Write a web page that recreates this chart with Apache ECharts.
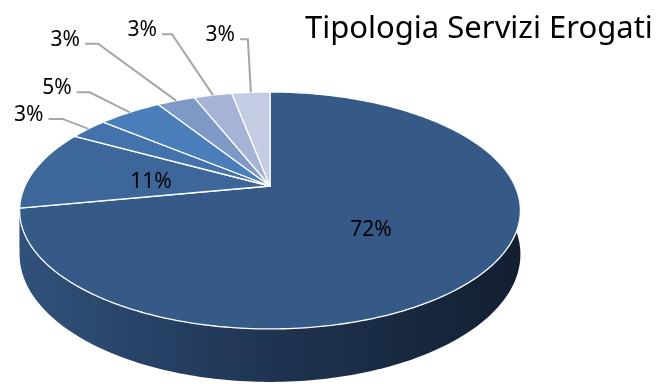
<!DOCTYPE html>
<html>
<head>
<meta charset="utf-8">
<script src="https://cdn.jsdelivr.net/npm/echarts@6/dist/echarts.min.js"></script>
<style>
  html, body { margin: 0; padding: 0; background: #ffffff; }
  #chart { width: 665px; height: 384px; }
</style>
</head>
<body>
<div id="chart"></div>
<script>
// ---- chart data ----
const titleText = 'Tipologia Servizi Erogati';
const sliceValues = [72, 11, 3, 5, 3, 3, 3];
const sliceLabels = ['72%', '11%', '3%', '5%', '3%', '3%', '3%'];

// ---- styling ----
const sliceColors = ['#365A87', '#3D679B', '#4372AC', '#4A7EBB', '#7F99C6', '#A5B4D6', '#C3CCE2'];
const FONT = '"Noto Sans", "Open Sans", sans-serif';

// Tilted disc seen in perspective: centre, radii, perspective factor, thickness
const view = { cx: 270, cy: 186, rx: 245, ry: 113.4, persp: 0.2067, depth: 42 };

// Outside labels: [elbow dx, elbow dy, horizontal run] from the rim anchor
const outsideLeaders = [null, null, [-26, -10, 14], [-40, -20, 13], [-78, -57, 13], [-41, -61, 10], [-3, -53, 8]];
const insideRadius = 0.5;

// cumulative start of each slice
const sliceStarts = [];
sliceValues.reduce((acc, v, i) => { sliceStarts[i] = acc; return acc + v; }, 0);
const totalValue = sliceValues.reduce((a, b) => a + b, 0);

// angle measured clockwise from 12 o'clock, r as fraction of radius
function project(theta, r) {
  const u = r * Math.sin(theta);
  const v = r * Math.cos(theta);
  const w = 1 + view.persp * v;
  return [view.cx + view.rx * u / w, view.cy - view.ry * v / w, w];
}

const sideGradient = {
  type: 'linear', global: true, x: 20, y: 0, x2: 520, y2: 0,
  colorStops: [
    { offset: 0, color: '#31517B' },
    { offset: 0.5, color: '#1F3452' },
    { offset: 1, color: '#131F31' }
  ]
};

function renderItem(params, api) {
  const i = params.dataIndex;
  const value = api.value(0);
  const startVal = api.value(1);
  const a0 = startVal / totalValue * Math.PI * 2;
  const a1 = (startVal + value) / totalValue * Math.PI * 2;
  const steps = Math.max(2, Math.ceil((a1 - a0) / (Math.PI / 180)));
  const rim = [];
  for (let k = 0; k <= steps; k++) {
    rim.push(project(a0 + (a1 - a0) * k / steps, 1));
  }
  const topPts = [[view.cx, view.cy]].concat(rim.map(p => [p[0], p[1]]));
  const sidePts = rim.map(p => [p[0], p[1]])
    .concat(rim.slice().reverse().map(p => [p[0], p[1] + view.depth / p[2]]));

  const children = [
    {
      type: 'polygon', z2: 1,
      shape: { points: sidePts },
      style: { fill: sideGradient, stroke: null }
    },
    {
      type: 'polygon', z2: 10,
      shape: { points: topPts },
      style: { fill: sliceColors[i], stroke: '#ffffff', lineWidth: 1.3, lineJoin: 'round' }
    }
  ];

  const mid = (a0 + a1) / 2;
  const leader = outsideLeaders[i];
  if (leader) {
    const anchor = project(mid, 1);
    const elbow = [anchor[0] + leader[0], anchor[1] + leader[1]];
    const end = [elbow[0] - leader[2], elbow[1]];
    children.push({
      type: 'polyline', z2: 20,
      shape: { points: [[anchor[0], anchor[1]], elbow, end] },
      style: { stroke: '#A6A6A6', lineWidth: 2, fill: null }
    });
    children.push({
      type: 'text', z2: 21,
      style: {
        x: end[0] - 5, y: end[1] - 4, text: sliceLabels[i],
        align: 'right', verticalAlign: 'middle',
        fill: '#000000', font: '21px ' + FONT
      }
    });
  } else {
    const p = project(mid, insideRadius);
    children.push({
      type: 'text', z2: 21,
      style: {
        x: p[0], y: p[1] + 5, text: sliceLabels[i],
        align: 'center', verticalAlign: 'middle',
        fill: '#000000', font: '21px ' + FONT
      }
    });
  }
  return { type: 'group', children: children };
}

const chart = echarts.init(document.getElementById('chart'), null, { renderer: 'canvas' });
chart.setOption({
  animation: false,
  backgroundColor: '#ffffff',
  title: {
    text: titleText,
    left: 300, top: 9,
    textStyle: { fontFamily: FONT, fontSize: 31, fontWeight: 'normal', color: '#000000' }
  },
  series: [{
    type: 'custom',
    coordinateSystem: 'none',
    renderItem: renderItem,
    data: sliceValues.map((v, i) => [v, sliceStarts[i]])
  }]
});
</script>
</body>
</html>
